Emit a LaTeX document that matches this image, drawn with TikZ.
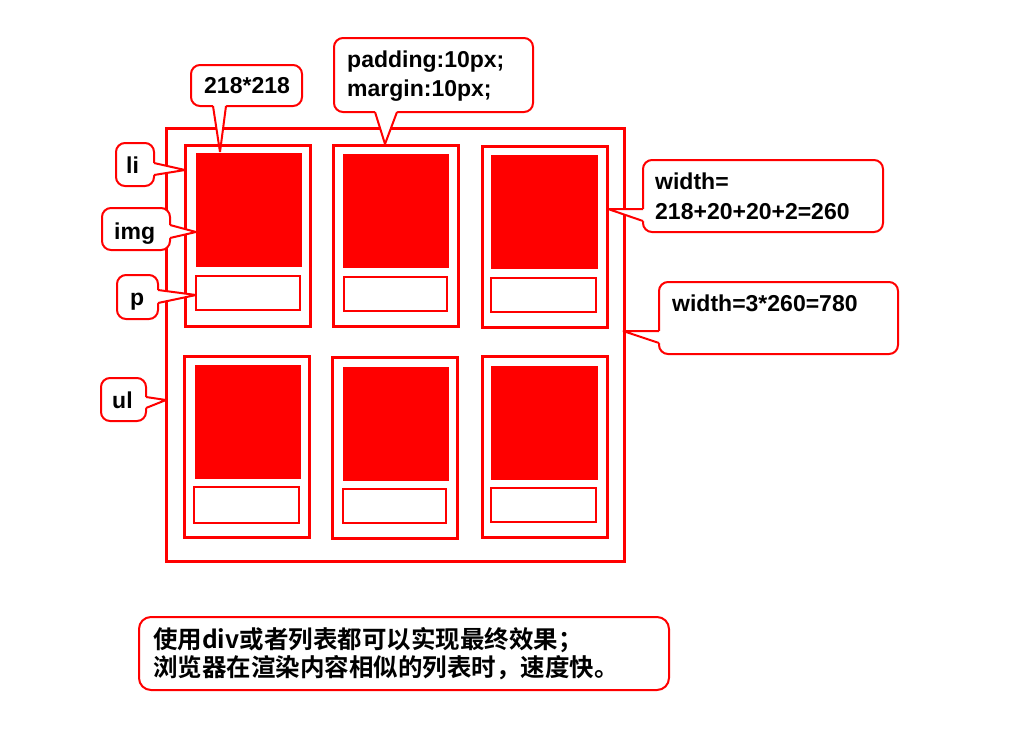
\documentclass[tikz,border=0pt]{standalone}
\usepackage{fontspec}
\setmainfont{Liberation Sans}
\newfontfamily\cjk{Noto Sans CJK SC}[BoldFont={Noto Sans CJK SC Bold}]
\definecolor{rd}{RGB}{255,0,0}
\newcommand\mypointer[5]{%
  \fill[white] (#1) -- (#2) -- (#3) -- (#4) -- (#5) -- cycle;
  \draw[ptr] (#2) -- (#3) -- (#4);}
\begin{document}
\begin{tikzpicture}[x=1pt,y=-1pt,
  ulbox/.style={draw=rd, line width=3pt, inner sep=0pt, minimum width=458pt, minimum height=433pt},
  libox/.style={draw=rd, line width=3pt, inner sep=0pt, minimum width=125pt, minimum height=181pt},
  imgbox/.style={fill=rd, inner sep=0pt, minimum width=106pt, minimum height=114pt},
  pbox/.style={draw=rd, line width=2pt, inner sep=0pt, minimum width=104pt, minimum height=34pt},
  callout/.style={draw=rd, fill=white, line width=2pt, rounded corners=9pt, inner sep=0pt},
  ptr/.style={draw=rd, line width=2pt, line join=bevel},
  lbl/.style={anchor=base west, inner sep=0pt, font=\bfseries\fontsize{23}{30}\selectfont},
  cjklbl/.style={anchor=base west, inner sep=0pt, font=\cjk\bfseries\fontsize{24.5}{30}\selectfont}]
\useasboundingbox (0,0) rectangle (1024,742);
\fill[white] (0,0) rectangle (1024,742);

% ul
\node[ulbox] (ul) at (395,344.5) {};
% li boxes
\node[libox] (li1) at (247.5,235.5) {};
\node[libox] (li2) at (395.5,236) {};
\node[libox] (li3) at (544.5,237) {};
\node[libox] (li4) at (247,446.5) {};
\node[libox] (li5) at (394.5,447.5) {};
\node[libox] (li6) at (544.5,447) {};
% images
\node[imgbox] (img1) at (249,210) {};
\node[imgbox] (img2) at (396,211) {};
\node[imgbox, minimum width=107pt] (img3) at (544.5,212) {};
\node[imgbox] (img4) at (248,422) {};
\node[imgbox] (img5) at (396,424) {};
\node[imgbox, minimum width=107pt] (img6) at (544.5,423) {};
% p boxes
\node[pbox] (p1) at (248,293) {};
\node[pbox, minimum width=103pt] (p2) at (395.5,293.5) {};
\node[pbox, minimum width=105pt] (p3) at (543.5,295) {};
\node[pbox, minimum width=105pt, minimum height=36pt] (p4) at (246.5,505) {};
\node[pbox, minimum width=103pt] (p5) at (394.5,506) {};
\node[pbox, minimum width=105pt] (p6) at (543.5,505) {};

% callout boxes
\node[callout, minimum width=111pt, minimum height=41pt] (c218) at (246.5,85.5) {};
\node[callout, minimum width=38pt, minimum height=43pt] (cli) at (135,164.5) {};
\node[callout, minimum width=68pt, minimum height=42pt] (cimg) at (136,229) {};
\node[callout, minimum width=41pt, minimum height=44pt] (cp) at (137.5,297) {};
\node[callout, minimum width=45pt, minimum height=43pt] (cul) at (123.5,399.5) {};
\node[callout, minimum width=199pt, minimum height=74pt] (cpad) at (433.5,75) {};
\node[callout, minimum width=240pt, minimum height=72pt] (cw1) at (763,196) {};
\node[callout, minimum width=239pt, minimum height=72pt] (cw2) at (778.5,318) {};
\node[callout, minimum width=530pt, minimum height=73pt, rounded corners=12pt] (cbot) at (404,653.5) {};

% pointer tips
\coordinate (t218) at (220,152);
\coordinate (tli) at (185,170);
\coordinate (timg) at (196,232);
\coordinate (tp) at (196,295);
\coordinate (tul) at (166,400);
\coordinate (tpad) at (385,144);
\coordinate (tw1) at (608,209);
\coordinate (tw2) at (623,331);

% pointers
\mypointer{213,102}{213,106}{t218}{226,106}{226,102}
\mypointer{150,163}{154,163}{tli}{154,175}{150,175}
\mypointer{166,225}{170,225}{timg}{170,238}{166,238}
\mypointer{154,290}{158,290}{tp}{158,303}{154,303}
\mypointer{142,397}{146,397}{tul}{146,408}{142,408}
\mypointer{375,108}{375,112}{tpad}{397,112}{397,108}
\mypointer{647,209}{643,209}{tw1}{643,221}{647,221}
\mypointer{663,331}{659,331}{tw2}{659,343}{663,343}

% labels
\node[lbl] (l218) at (204,93) {218*218};
\node[lbl] (lli) at (126,173) {li};
\node[lbl] (limg) at (114,239) {img};
\node[lbl] (lp) at (130,305) {p};
\node[lbl] (lul) at (112,408) {ul};
\node[lbl] (lpad1) at (347,67) {padding:10px;};
\node[lbl] (lpad2) at (347,96) {margin:10px;};
\node[lbl] (lw1a) at (655,189) {width=};
\node[lbl] (lw1b) at (655,219) {218+20+20+2=260};
\node[lbl] (lw2) at (672,311) {width=3*260=780};
\node[cjklbl] (lb1) at (153,648) {使用div或者列表都可以实现最终效果；};
\node[cjklbl] (lb2) at (153,676) {浏览器在渲染内容相似的列表时，速度快。};
\end{tikzpicture}
\end{document}
